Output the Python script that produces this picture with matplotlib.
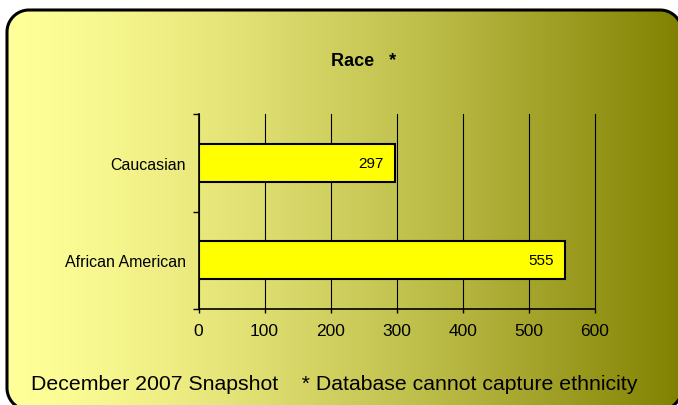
import numpy as np
import matplotlib
matplotlib.use('agg')
import matplotlib.pyplot as plt
from matplotlib.path import Path
from matplotlib.patches import PathPatch
from matplotlib.colors import LinearSegmentedColormap

plt.rcParams['font.family'] = ['Liberation Sans', 'DejaVu Sans']

# data
races = ['African American', 'Caucasian']
counts = [555, 297]
x_ticks = [0, 100, 200, 300, 400, 500, 600]

W, H = 678, 406
fig = plt.figure(figsize=(W / 100, H / 100), dpi=100)
fig.patch.set_facecolor('white')

# background panel in pixel units (y grows downwards)
bg = fig.add_axes([0, 0, 1, 1])
bg.set_xlim(0, W)
bg.set_ylim(H, 0)
bg.axis('off')


def rounded_rect(x0, y0, x1, y1, r, n=24):
    # closed outline of a rectangle with rounded corners
    pts = []
    corners = [(x1 - r, y0 + r, -90, 0), (x1 - r, y1 - r, 0, 90),
               (x0 + r, y1 - r, 90, 180), (x0 + r, y0 + r, 180, 270)]
    for cx, cy, a0, a1 in corners:
        a = np.radians(np.linspace(a0, a1, n))
        pts.extend(zip(cx + r * np.cos(a), cy + r * np.sin(a)))
    pts.append(pts[0])
    return Path(pts, closed=True)


outline = rounded_rect(7, 11, 682, 411, 22)

# horizontal gradient pale yellow -> olive, eased a bit
cmap = LinearSegmentedColormap.from_list('olive', ['#FFFF99', '#808000'])
gx = np.linspace(7, 682, 300)
gy = np.array([11, 411])
shade = (np.linspace(0, 1, 299) ** 1.35)[None, :]
mesh = bg.pcolormesh(gx, gy, shade, cmap=cmap, vmin=0, vmax=1, shading='flat', zorder=1)
mesh.set_clip_path(outline, bg.transData)
bg.add_patch(PathPatch(outline, facecolor='none', edgecolor='black', lw=2.2, zorder=3))
bg.set_xlim(0, W)
bg.set_ylim(H, 0)

bg.text(364, 62, 'Race   *', ha='center', va='center', fontsize=13, fontweight='bold')
bg.text(31, 385, 'December 2007 Snapshot    * Database cannot capture ethnicity',
        ha='left', va='center', fontsize=15.3)

# bar chart
ax = fig.add_axes([198.5 / W, 1 - 310 / H, 396.5 / W, 195 / H])
ax.set_facecolor('none')
ypos = np.arange(len(races))
bars = ax.barh(ypos, counts, height=0.39, color='#FFFF00', edgecolor='black', lw=1.5, zorder=3)

for y, v in zip(ypos, counts):
    ax.annotate(str(v), (v, y), xytext=(-8, 0), textcoords='offset points',
                ha='right', va='center', fontsize=11, zorder=4)

ax.set_xlim(0, 600)
ax.set_ylim(-0.5, 1.5)
ax.set_xticks(x_ticks)
ax.set_xticklabels([str(v) for v in x_ticks], fontsize=12.5)
ax.xaxis.grid(True, color='black', lw=0.8, zorder=0)
ax.set_axisbelow(True)
for gl in ax.get_xgridlines():
    gl.set_clip_on(False)

ax.set_yticks([-0.5, 0.5, 1.5])
ax.set_yticklabels([])
ax.set_yticks(ypos, minor=True)
ax.set_yticklabels(races, minor=True, fontsize=11.5)
ax.tick_params(axis='y', which='minor', length=0, pad=9)
ax.tick_params(axis='y', which='major', length=4, width=1, direction='out')
ax.tick_params(axis='x', length=3, width=1, direction='out', pad=7)

for s in ['top', 'right']:
    ax.spines[s].set_visible(False)
for s in ['left', 'bottom']:
    ax.spines[s].set_linewidth(1.2)

fig.savefig('out.png', dpi=100)
plt.close()
